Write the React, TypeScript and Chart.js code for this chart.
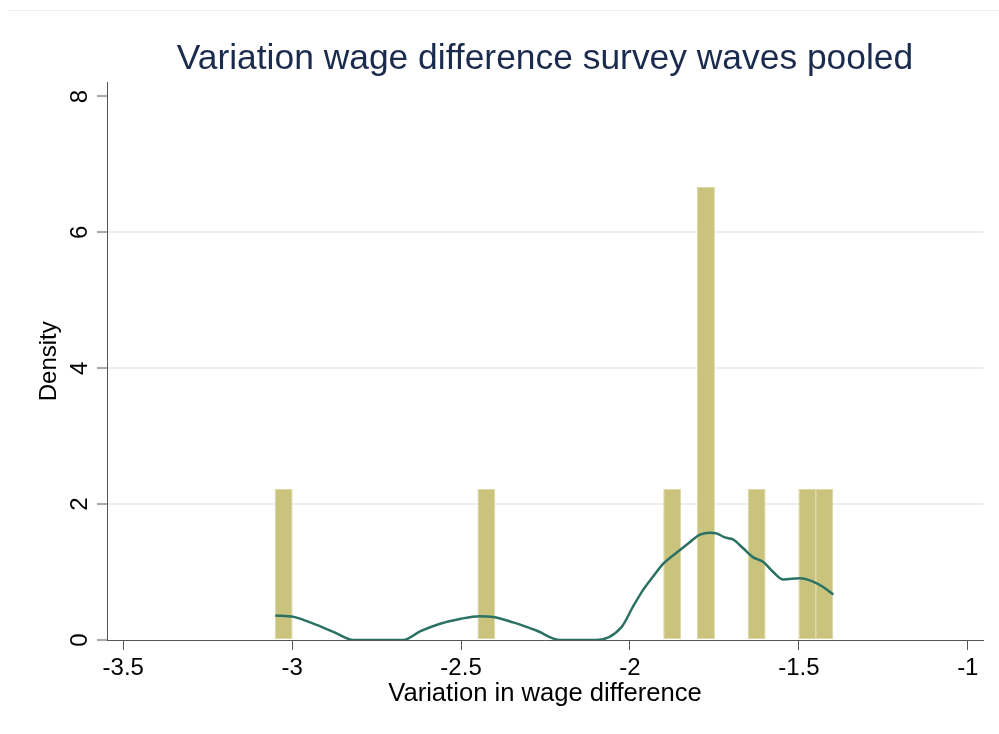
import { useEffect, useRef } from 'react';
import { Chart, registerables } from 'chart.js';

Chart.register(...registerables);

const binCenters = [-3.025, -2.425, -1.875, -1.775, -1.625, -1.475, -1.425];
const binDensity = [2.2222, 2.2222, 2.2222, 6.6667, 2.2222, 2.2222, 2.2222];

const kdeX = [
  -3.05, -2.995, -2.937, -2.878, -2.818, -2.671, -2.62, -2.562, -2.503, -2.445,
  -2.405, -2.346, -2.277, -2.207, -2.099, -2.025, -1.991, -1.962, -1.932, -1.902,
  -1.853, -1.823, -1.793, -1.763, -1.744, -1.719, -1.695, -1.665, -1.636, -1.606,
  -1.576, -1.546, -1.497, -1.458, -1.428, -1.398,
];
const kdeY = [
  0.36, 0.34, 0.24, 0.12, 0.0, 0.0, 0.13, 0.24, 0.31, 0.35,
  0.34, 0.26, 0.14, 0.0, 0.0, 0.19, 0.49, 0.73, 0.93, 1.12,
  1.32, 1.44, 1.55, 1.58, 1.57, 1.51, 1.48, 1.35, 1.22, 1.15,
  1.0, 0.89, 0.91, 0.86, 0.78, 0.67,
];

const xTicks = [-3.5, -3, -2.5, -2, -1.5, -1];
const xTickLabels = ['-3.5', '-3', '-2.5', '-2', '-1.5', '-1'];
const yTicks = [0, 2, 4, 6, 8];
const yTickLabels = ['0', '2', '4', '6', '8'];

const FONT = '"Liberation Sans", Arial, Helvetica, sans-serif';

export default function App() {
  const ref = useRef<HTMLCanvasElement>(null);

  useEffect(() => {
    document.body.style.margin = '0';
    const canvas = ref.current;
    if (!canvas) return;

    const framePlugin = {
      id: 'frame',
      beforeDraw(chart: any) {
        const ctx = chart.ctx;
        ctx.save();
        ctx.fillStyle = '#ffffff';
        ctx.fillRect(0, 0, chart.width, chart.height);
        ctx.strokeStyle = '#eceff0';
        ctx.lineWidth = 1;
        ctx.beginPath();
        ctx.moveTo(8, 10.5);
        ctx.lineTo(chart.width, 10.5);
        ctx.stroke();
        ctx.restore();
      },
    };

    const yLabelPlugin = {
      id: 'yLabels',
      afterDraw(chart: any) {
        const ctx = chart.ctx;
        const ys = chart.scales.y;
        ctx.save();
        ctx.fillStyle = '#000000';
        ctx.font = `24px ${FONT}`;
        ctx.textAlign = 'center';
        ctx.textBaseline = 'middle';
        yTicks.forEach((v, i) => {
          const py = ys.getPixelForValue(v);
          ctx.save();
          ctx.translate(80, py);
          ctx.rotate(-Math.PI / 2);
          ctx.fillText(yTickLabels[i], 0, 0);
          ctx.restore();
        });
        ctx.restore();
      },
    };

    const chart = new Chart(canvas, {
      type: 'bar',
      data: {
        datasets: [
          {
            type: 'line',
            data: kdeX.map((x, i) => ({ x, y: kdeY[i] })),
            borderColor: '#2b7264',
            borderWidth: 2.5,
            pointRadius: 0,
            cubicInterpolationMode: 'monotone',
            fill: false,
            order: 0,
          } as any,
          {
            type: 'bar',
            data: binCenters.map((x, i) => ({ x, y: binDensity[i] })),
            backgroundColor: '#c9c37e',
            borderColor: '#dcd8a3',
            borderWidth: 1,
            borderSkipped: false,
            barPercentage: 1.06,
            categoryPercentage: 1,
            order: 1,
          } as any,
        ],
      },
      options: {
        animation: false,
        responsive: false,
        layout: { padding: { left: 0, right: 16, top: 0, bottom: 0 } },
        plugins: {
          legend: { display: false },
          tooltip: { enabled: false },
          title: {
            display: true,
            text: 'Variation wage difference survey waves pooled',
            color: '#1b2b4d',
            font: { family: FONT, size: 35.4, weight: 'normal' },
            padding: { top: 38, bottom: 2 },
            fullSize: false,
          },
        },
        scales: {
          x: {
            type: 'linear',
            min: -3.548,
            max: -0.955,
            offset: false,
            afterBuildTicks: (s: any) => {
              s.ticks = xTicks.map((v) => ({ value: v }));
            },
            afterFit: (s: any) => {
              s.height = 94;
            },
            ticks: {
              color: '#000000',
              font: { family: FONT, size: 24 },
              padding: 4,
              maxRotation: 0,
              minRotation: 0,
              autoSkip: false,
              callback: (_v: any, i: number) => xTickLabels[i],
            },
            grid: {
              offset: false,
              color: 'rgba(0,0,0,0)',
              drawOnChartArea: false,
              tickColor: '#555555',
              tickLength: 10,
              tickWidth: 1,
            },
            border: { display: true, color: '#555555', width: 1 },
            title: {
              display: true,
              text: 'Variation in wage difference',
              color: '#000000',
              font: { family: FONT, size: 25.6 },
              padding: { top: 0, bottom: 25 },
            },
          },
          y: {
            type: 'linear',
            min: 0,
            max: 8.206,
            afterBuildTicks: (s: any) => {
              s.ticks = yTicks.map((v) => ({ value: v }));
            },
            afterFit: (s: any) => {
              s.width = 107;
            },
            ticks: { display: false },
            grid: {
              color: (c: any) =>
                c.tick && [2, 4, 6].includes(c.tick.value) ? '#e8f0f2' : 'rgba(0,0,0,0)',
              lineWidth: 2,
              tickColor: '#555555',
              tickLength: 10,
              tickWidth: 1,
            },
            border: { display: true, color: '#555555', width: 1 },
            title: {
              display: true,
              text: 'Density',
              color: '#000000',
              font: { family: FONT, size: 24 },
              padding: { top: 35, bottom: 0 },
            },
          },
        },
      } as any,
      plugins: [framePlugin, yLabelPlugin],
    });

    return () => chart.destroy();
  }, []);

  return (
    <div style={{ width: 999, height: 734 }}>
      <canvas ref={ref} width={999} height={734} style={{ display: 'block' }} />
    </div>
  );
}
